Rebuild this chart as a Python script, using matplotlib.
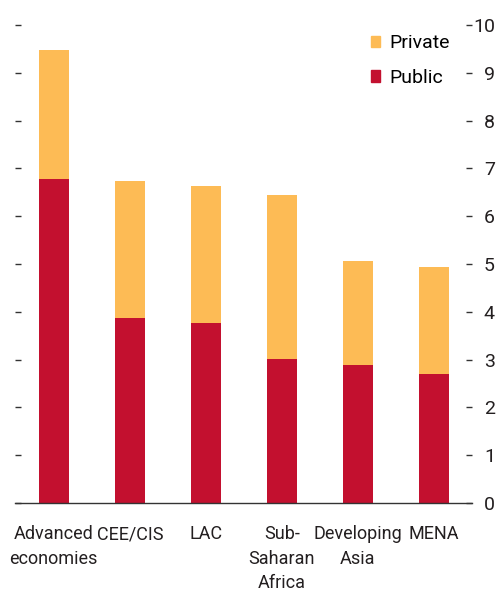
import numpy as np
import matplotlib.pyplot as plt
from matplotlib.patches import Patch

plt.rcParams['font.family'] = ['Roboto', 'DejaVu Sans']

regions = ["Advanced\neconomies", "CEE/CIS", "LAC", "Sub-\nSaharan\nAfrica", "Developing\nAsia", "MENA"]
public = [6.78, 3.87, 3.77, 3.01, 2.89, 2.70]
total = [9.48, 6.74, 6.63, 6.44, 5.06, 4.94]
private = [t - p for t, p in zip(total, public)]

c_public = "#C3102F"
c_private = "#FDBB55"

fig = plt.figure(figsize=(5, 5.93), dpi=100)
ax = fig.add_axes([0.03, 0.1518, 0.914, 0.8062])

x = np.arange(len(regions))
ax.bar(x, public, width=0.395, color=c_public)
ax.bar(x, private, width=0.395, bottom=public, color=c_private)

ax.set_xlim(-0.51, 5.5)
ax.set_ylim(0, 10)

for s in ["top", "left", "right"]:
    ax.spines[s].set_visible(False)
ax.spines["bottom"].set_color("#333333")
ax.spines["bottom"].set_linewidth(1.0)

ax.set_xticks(x)
ax.set_xticklabels(regions, fontsize=13, color="#231f20", linespacing=1.45)
ax.tick_params(axis="x", length=0, pad=16)

ax.set_yticks(range(0, 11))
ax.yaxis.set_ticks_position("both")
ax.tick_params(axis="y", direction="in", length=4.5, width=1.0, color="#333333",
               labelleft=False, labelright=True, labelsize=14, labelcolor="#231f20", pad=16.5)
for lab in ax.get_yticklabels():
    lab.set_horizontalalignment("right")

handles = [Patch(color=c_private, label="Private"), Patch(color=c_public, label="Public")]
fig.legend(handles=handles, loc="upper left", bbox_to_anchor=(0.714, 0.965), frameon=False,
           fontsize=14, handlelength=0.5, handleheight=0.5, handletextpad=0.45,
           labelspacing=0.85, borderpad=0.2)

fig.savefig("out.png", dpi=100)
